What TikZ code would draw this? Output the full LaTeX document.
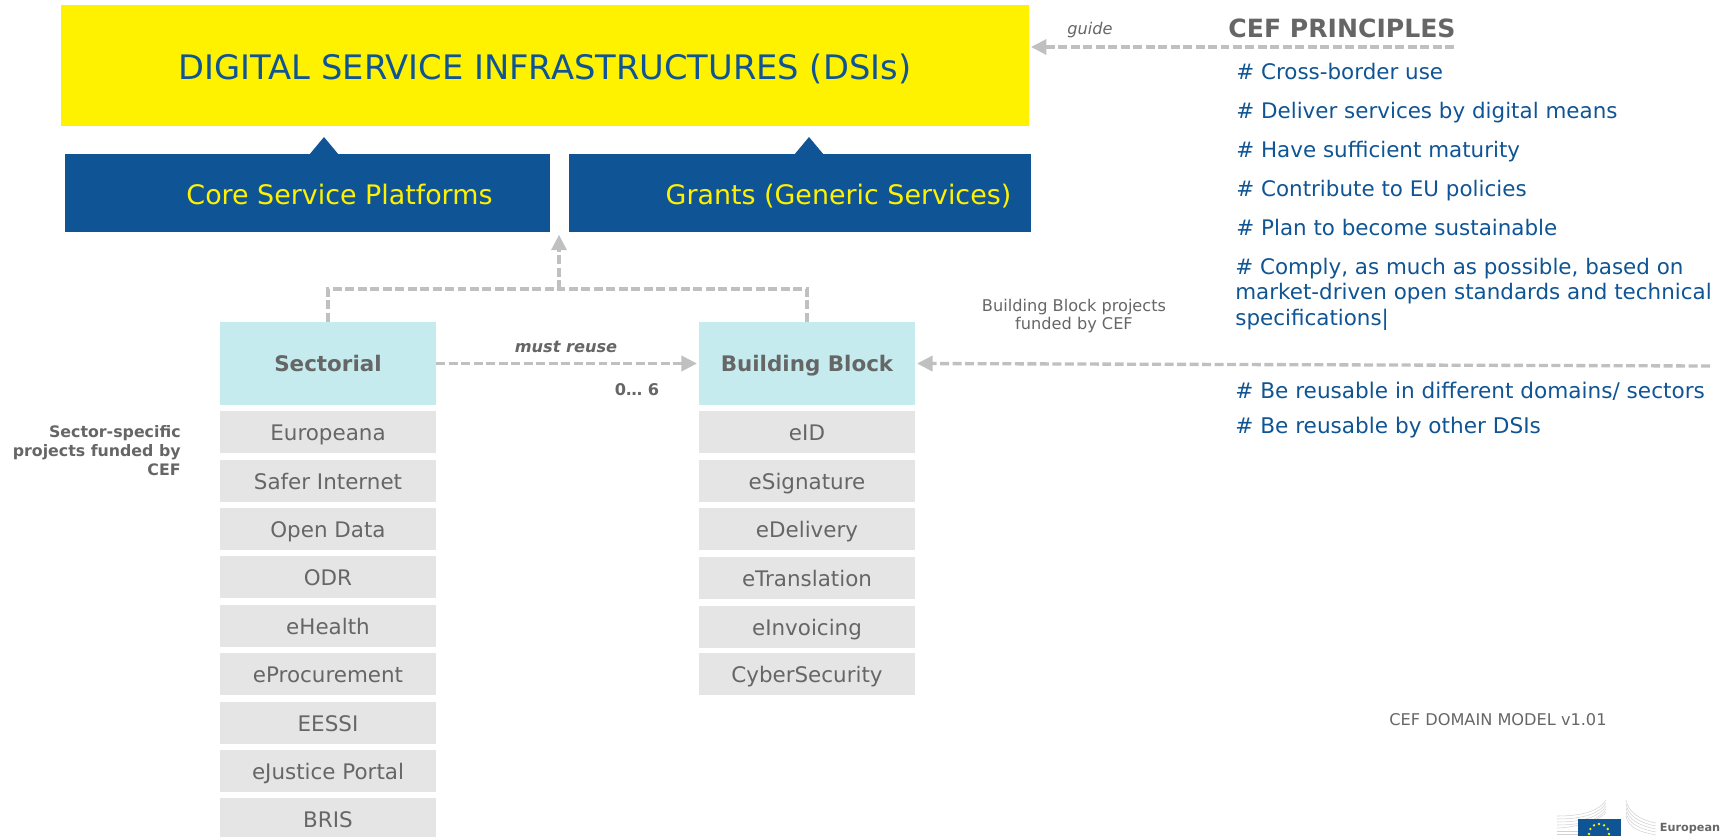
\documentclass[tikz,border=0pt]{standalone}
\usepackage{fontspec}
\setmainfont{DejaVu Sans}
\usetikzlibrary{arrows.meta}
\definecolor{dsiyellow}{HTML}{FFF200}
\definecolor{ecblue}{HTML}{0F5494}
\definecolor{headcyan}{HTML}{C5EBEE}
\definecolor{rowgrey}{HTML}{E5E5E5}
\definecolor{textgrey}{HTML}{666666}
\definecolor{dashgrey}{HTML}{C0C0C0}
\def\sized#1#2{\fontsize{#1}{#2}\selectfont}
\tikzset{
	dashplain/.style={draw=dashgrey, line width=1.9pt, dash pattern=on 5.1pt off 2pt},
	dasharrow/.style={dashplain, shorten >=1pt, -{Triangle[length=8.8pt,width=8.6pt,color=dashgrey,sep=0pt]}},
	platformbox/.style={fill=ecblue, minimum height=1.56cm, inner sep=0pt},
	platformtext/.style={text=dsiyellow, inner sep=0pt, text height=14pt, text depth=0.6pt, font=\sized{15.3}{18}},
	headbox/.style={fill=headcyan, text=textgrey, minimum width=4.32cm, minimum height=1.66cm, inner sep=0pt, text height=9.7pt, text depth=0.4pt, font=\bfseries\sized{12.2}{15}},
	rowbox/.style={fill=rowgrey, text=textgrey, minimum width=4.32cm, minimum height=0.84cm, inner sep=0pt, text height=10.5pt, text depth=0.5pt, font=\sized{12.2}{15}},
	principle/.style={anchor=west, text=ecblue, inner sep=0pt, font=\sized{12.2}{14.5}},
	oneprinciple/.style={principle, text height=9.4pt, text depth=0.5pt},
	stripe/.style={draw=black!18, line width=0.3pt},
}

\begin{document}
\begin{tikzpicture}[x=0.02cm, y=-0.02cm]
	%%%%% START %%%%%
	\useasboundingbox (0, 0) rectangle (1729, 836);
	
	\node[fill=dsiyellow, text=ecblue, minimum width=19.36cm, minimum height=2.42cm, inner sep=0pt, text height=16.3pt, text depth=0.6pt, font=\sized{19.2}{22}] (dsi) at (545, 65.5) {DIGITAL SERVICE INFRASTRUCTURES (DSIs)};
	
	\fill[ecblue] (309, 155) -- (324, 137) -- (339, 155) -- cycle;
	\fill[ecblue] (794, 155) -- (809, 137) -- (824, 155) -- cycle;
	\node[platformbox, minimum width=9.7cm] (core) at (307.5, 193) {};
	\node[platformbox, minimum width=9.24cm] (grants) at (800, 193) {};
	\node[platformtext] (coretext) at (339.5, 193) {Core Service Platforms};
	\node[platformtext] (grantstext) at (838.5, 193) {Grants (Generic Services)};
	
	\node[headbox] (sectorial) at (328, 363.5) {Sectorial};
	\node[headbox] (buildingblock) at (807, 363.5) {Building Block};
	
	\node[rowbox] (europeana) at (328, 432) {Europeana};
	\node[rowbox] (safer) at (328, 481) {Safer Internet};
	\node[rowbox] (opendata) at (328, 529) {Open Data};
	\node[rowbox] (odr) at (328, 577) {ODR};
	\node[rowbox] (ehealth) at (328, 626) {eHealth};
	\node[rowbox] (eprocurement) at (328, 674) {eProcurement};
	\node[rowbox] (eessi) at (328, 723) {EESSI};
	\node[rowbox] (ejustice) at (328, 771) {eJustice Portal};
	\node[rowbox] (bris) at (328, 819) {BRIS};
	
	\node[rowbox] (eid) at (807, 432) {eID};
	\node[rowbox] (esignature) at (807, 481) {eSignature};
	\node[rowbox] (edelivery) at (807, 529) {eDelivery};
	\node[rowbox] (etranslation) at (807, 578) {eTranslation};
	\node[rowbox] (einvoicing) at (807, 627) {eInvoicing};
	\node[rowbox] (cybersecurity) at (807, 674) {CyberSecurity};
	
	\coordinate (junction) at (559, 289);
	\coordinate (gaptip) at (559, 233);
	\draw[dashplain] (sectorial.north) |- (junction);
	\draw[dashplain] (buildingblock.north) |- (junction);
	\draw[dasharrow] (junction) -- (gaptip);
	\draw[dasharrow] (sectorial) -- (buildingblock);
	
	\coordinate (blockfree) at (1710, 366);
	\draw[dasharrow] (blockfree) -- (buildingblock.east);
	\coordinate (guidefree) at (1454, 47);
	\draw[dasharrow] (guidefree) -- (guidefree -| dsi.east);
	
	\node[text=textgrey, inner sep=0pt, font=\itshape\sized{9.2}{11}] (guide) at (1090, 30) {guide};
	\node[text=textgrey, inner sep=0pt, font=\bfseries\sized{14.3}{17}] (principles) at (1342, 28.5) {CEF PRINCIPLES};
	\node[text=textgrey, inner sep=0pt, font=\bfseries\itshape\sized{9.2}{11}] (reuse) at (566, 346.5) {must reuse};
	\node[text=textgrey, inner sep=0pt, font=\bfseries\sized{9.2}{11}] (cardinality) at (637, 390) {0… 6};
	\node[text=textgrey, inner sep=0pt, align=center, font=\sized{9.2}{10.6}] (blockfunded) at (1074, 316) {Building Block projects\\funded by CEF};
	\node[text=textgrey, inner sep=0pt, align=right, anchor=east, font=\bfseries\sized{9}{10.8}] (sectorfunded) at (181, 451) {Sector-specific\\projects funded by\\CEF};
	\node[text=textgrey, inner sep=0pt, font=\sized{9.2}{11}] (version) at (1498, 720) {CEF DOMAIN MODEL v1.01};
	
	\node[oneprinciple] (crossborder) at (1236, 71.3) {\# Cross-border use};
	\node[oneprinciple] (deliver) at (1236, 110.3) {\# Deliver services by digital means};
	\node[oneprinciple] (maturity) at (1236, 149.3) {\# Have sufficient maturity};
	\node[oneprinciple] (policies) at (1236, 188.3) {\# Contribute to EU policies};
	\node[oneprinciple] (sustainable) at (1236, 227.3) {\# Plan to become sustainable};
	\node[principle, align=left] (comply) at (1235, 294) {\# Comply, as much as possible, based on\\market-driven open standards and technical\\specifications|};
	\node[oneprinciple, font=\sized{12.3}{14.5}] (domains) at (1235, 391) {\# Be reusable in different domains/ sectors};
	\node[oneprinciple, font=\sized{12.3}{14.5}] (otherdsis) at (1235, 426) {\# Be reusable by other DSIs};
	
	% logo
	\draw[stripe] (1557, 816) .. controls (1585, 816) and (1600, 810) .. (1606, 800);
	\draw[stripe] (1557, 819) .. controls (1585, 819) and (1600, 813) .. (1606, 803);
	\draw[stripe] (1557, 822) .. controls (1585, 822) and (1600, 816) .. (1606, 806);
	\draw[stripe] (1557, 825) .. controls (1585, 825) and (1600, 819) .. (1606, 809);
	\draw[stripe] (1557, 828) .. controls (1570, 828) and (1600, 822) .. (1606, 812);
	\draw[stripe] (1557, 831) -- (1578, 831);
	\draw[stripe] (1557, 834) -- (1578, 834);
	\draw[stripe] (1626, 800) .. controls (1628, 812) and (1640, 820) .. (1656, 823);
	\draw[stripe] (1626, 804) .. controls (1628, 816) and (1640, 823) .. (1656, 826);
	\draw[stripe] (1626, 808) .. controls (1628, 820) and (1640, 826) .. (1656, 829);
	\draw[stripe] (1626, 812) .. controls (1628, 824) and (1640, 829) .. (1656, 832);
	\draw[stripe] (1626, 816) .. controls (1628, 828) and (1640, 832) .. (1656, 835);
	\fill[ecblue] (1578, 819) rectangle (1621, 836);
	\fill[dsiyellow] (1589, 834) circle (1.3);
	\fill[dsiyellow] (1590.3, 829) circle (1.3);
	\fill[dsiyellow] (1594, 825.3) circle (1.3);
	\fill[dsiyellow] (1599, 824) circle (1.3);
	\fill[dsiyellow] (1604, 825.3) circle (1.3);
	\fill[dsiyellow] (1607.7, 829) circle (1.3);
	\fill[dsiyellow] (1609, 834) circle (1.3);
	\node[text=textgrey, inner sep=0pt, font=\bfseries\sized{6.4}{8}] (european) at (1690, 829) {European};
	
	%%%%% END %%%%%
\end{tikzpicture}
\end{document}
